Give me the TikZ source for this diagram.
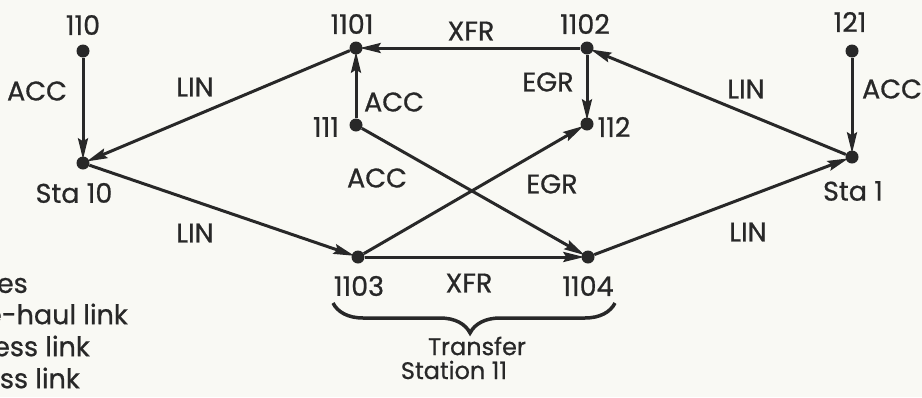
\documentclass[tikz,border=0pt]{standalone}
\usepackage{fontspec}
\setmainfont{Poppins}[FakeBold=0.7,Numbers=Monospaced]
\usetikzlibrary{arrows.meta,decorations.pathreplacing}
\definecolor{bg}{RGB}{249,249,244}
\definecolor{ink}{RGB}{40,40,40}
\begin{document}
\begin{tikzpicture}[x=1pt,y=-1pt,
  dot/.style={circle,fill=ink,inner sep=0pt,minimum size=13pt},
  lbl/.style={text=ink,font=\fontsize{27}{29}\selectfont,inner sep=0pt},
  small/.style={lbl,font=\fontsize{24}{26}\selectfont},
  link/.style={draw=ink,line width=3pt,-{Stealth[length=21pt,width=10pt,inset=3pt]},shorten >=-3pt}]
\fill[bg] (0,0) rectangle (922,397);
\useasboundingbox (0,0) rectangle (922,397);

% nodes
\node[dot] (n110) at (83,51) {};
\node[dot] (s10) at (83,163) {};
\node[dot] (n1101) at (356,48) {};
\node[dot] (n1102) at (587,48) {};
\node[dot] (n121) at (852,51) {};
\node[dot] (s1) at (852,157) {};
\node[dot] (n111) at (356,125) {};
\node[dot] (n112) at (587,124) {};
\node[dot] (n1103) at (358,257) {};
\node[dot] (n1104) at (588,257) {};

% links
\draw[link] (n110) -- (s10);
\draw[link] (n1101) -- (s10);
\draw[link] (s10) -- (n1103);
\draw[link] (n1102) -- (n1101);
\draw[link] (n111) -- (n1101);
\draw[link] (n1102) -- (n112);
\draw[link] (n111) -- (n1104);
\draw[link] (n1103) -- (n112);
\draw[link] (n1103) -- (n1104);
\draw[link] (n1104) -- (s1);
\draw[link] (s1) -- (n1102);
\draw[link] (n121) -- (s1);

% node labels
\node[lbl] (t110) at (83,25) {110};
\node[lbl] (ts10) at (74,193) {Sta 10};
\node[lbl] (t1101) at (352,24) {1101};
\node[lbl] (t1102) at (585,24) {1102};
\node[lbl] (t121) at (850,22) {121};
\node[lbl] (ts1) at (853,191) {Sta 1};
\node[lbl] (t111) at (326,127) {111};
\node[lbl] (t112) at (614,127) {112};
\node[lbl] (t1103) at (359,286) {1103};
\node[lbl] (t1104) at (588,286) {1104};

% link labels
\node[lbl] (a1) at (37,91) {ACC};
\node[lbl] (l1) at (195,87) {LIN};
\node[lbl] (l2) at (195,233) {LIN};
\node[lbl] (x1) at (471,31) {XFR};
\node[lbl] (a2) at (394,102) {ACC};
\node[lbl] (e1) at (548,82) {EGR};
\node[lbl] (a3) at (377,178) {ACC};
\node[lbl] (e2) at (552,184) {EGR};
\node[lbl] (x2) at (469,283) {XFR};
\node[lbl] (l3) at (748,232) {LIN};
\node[lbl] (l4) at (746,89) {LIN};
\node[lbl] (a4) at (892,89) {ACC};

% brace
\draw[ink,line width=3.5pt,decorate,decoration={brace,mirror,amplitude=30pt,aspect=0.486}] (333,303) -- (615,303);
\node[small] (tr1) at (477,346) {Transfer};
\node[small] (tr2) at (454,370) {Station 11};

% legend (cut off at the left edge)
\node[lbl,anchor=east] (g1) at (28,283) {les};
\node[lbl,anchor=east] (g2) at (128,314) {e-haul link};
\node[lbl,anchor=east] (g3) at (90,346) {ess link};
\node[lbl,anchor=east] (g4) at (80,378) {ess link};
\end{tikzpicture}
\end{document}
